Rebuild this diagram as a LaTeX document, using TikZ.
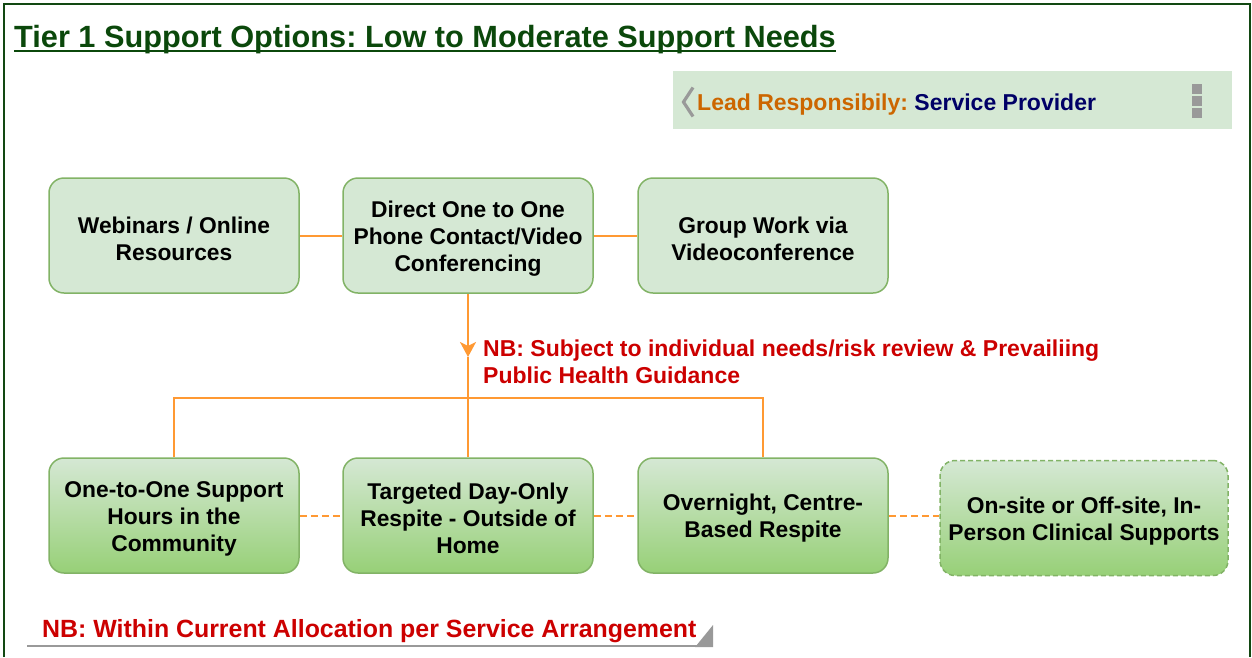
\documentclass[tikz,border=0pt]{standalone}
\usepackage{fontspec}
\setmainfont{Liberation Sans}
\usetikzlibrary{arrows.meta}
\frenchspacing

\definecolor{framegreen}{RGB}{18,72,18}
\definecolor{titlegreen}{RGB}{11,72,11}
\definecolor{boxfill}{HTML}{D5E8D4}
\definecolor{boxgrad}{HTML}{97D077}
\definecolor{boxborder}{HTML}{82B366}
\definecolor{linkorange}{HTML}{FF9933}
\definecolor{nbred}{HTML}{CC0000}
\definecolor{leadorange}{HTML}{CC6600}
\definecolor{navy}{HTML}{000066}
\definecolor{markgray}{HTML}{999999}

% invisible strut that lowers the text block inside a box
\newcommand{\boxstrut}{\rule{0pt}{22.6pt}}

\tikzset{
  boxbase/.style={rounded corners=15pt, draw=boxborder, line width=1.5pt,
    minimum width=250pt, minimum height=115pt, align=center, inner sep=0pt,
    font=\fontsize{22.8}{27}\selectfont\bfseries, text=black},
  topbox/.style={boxbase, fill=boxfill},
  lowbox/.style={boxbase, top color=boxfill, bottom color=boxgrad},
  link/.style={draw=linkorange, line width=2pt},
  dlink/.style={link, dash pattern=on 7pt off 4pt},
  bodytext/.style={inner sep=0pt, font=\fontsize{23}{27}\selectfont\bfseries},
}

\begin{document}
\begin{tikzpicture}[x=1pt, y=-1pt]
\useasboundingbox (0,0) rectangle (1252,657);

% outer frame (runs off the bottom edge)
\draw[framegreen, line width=2pt] (4,657) -- (4,4) -- (1250,4) -- (1250,657);

% title with underline
\node[anchor=base west, inner sep=0pt, text=titlegreen,
      font=\fontsize{30.7}{36}\selectfont\bfseries] (title) at (14,47)
  {Tier 1 Support Options: Low to Moderate Support Needs};
\draw[titlegreen, line width=2.4pt]
  ([yshift=-4pt]title.base west) -- ([yshift=-4pt]title.base east);

% lead responsibility banner
\node[fill=boxfill, minimum width=559pt, minimum height=58pt, inner sep=0pt,
      anchor=north west] (lead) at (673,71) {};
\draw[markgray, line width=3.2pt] (693,87.5) -- (683.5,102) -- (693,116.5);
\node[bodytext, anchor=base west] (leadtext) at (697,110)
  {\textcolor{leadorange}{Lead Responsibily:} \textcolor{navy}{Service Provider}};
\fill[markgray] (1192,84) rectangle (1202,94);
\fill[markgray] (1192,96) rectangle (1202,106);
\fill[markgray] (1192,108) rectangle (1202,118);

% top row
\node[topbox] (b1) at (174,235.5) {\boxstrut Webinars / Online\\Resources};
\node[topbox] (b2) at (468,235.5) {\boxstrut Direct One to One\\Phone Contact/Video\\Conferencing};
\node[topbox] (b3) at (763,235.5) {\boxstrut Group Work via\\Videoconference};

% bottom row
\node[lowbox] (b4) at (174,515.5) {\boxstrut One-to-One Support\\Hours in the\\Community};
\node[lowbox] (b5) at (468,515.5) {\boxstrut Targeted Day-Only\\Respite - Outside of\\Home};
\node[lowbox] (b6) at (763,515.5) {\boxstrut Overnight, Centre-\\Based Respite};
\node[lowbox, minimum width=288pt, dash pattern=on 5pt off 3pt] (b7) at (1084,518)
  {\boxstrut On-site or Off-site, In-\\Person Clinical Supports};

% connectors
\draw[link] (b1.east) -- (b2.west);
\draw[link] (b2.east) -- (b3.west);
\coordinate (tip) at (468,357);
\coordinate (bar) at (468,398);
\draw[link, -{Stealth[length=15pt, width=16pt, inset=4pt]}] (b2.south) -- (tip);
\draw[link] (tip) -- (b5.north);
\draw[link] (b4.north) -- (b4.north |- bar) -- (b6.north |- bar) -- (b6.north);
\draw[dlink] (b4.east) -- (b5.west);
\draw[dlink] (b5.east) -- (b6.west);
\draw[dlink] (b6.east) -- (b6.east -| b7.west);

% review note
\node[bodytext, anchor=north west, align=left, text=nbred] (nb) at (483,340)
  {NB: Subject to individual needs/risk review \& Prevailiing\\Public Health Guidance};

% allocation note with its shelf
\node[anchor=base west, inner sep=0pt, text=nbred,
      font=\fontsize{24.9}{29}\selectfont\bfseries] (alloc) at (42,637)
  {NB: Within Current Allocation per Service Arrangement};
\draw[markgray, line width=2.5pt] (27,646) -- (713,646);
\fill[markgray] (695,647.2) -- (713,625) -- (713,647.2) -- cycle;
\end{tikzpicture}
\end{document}
